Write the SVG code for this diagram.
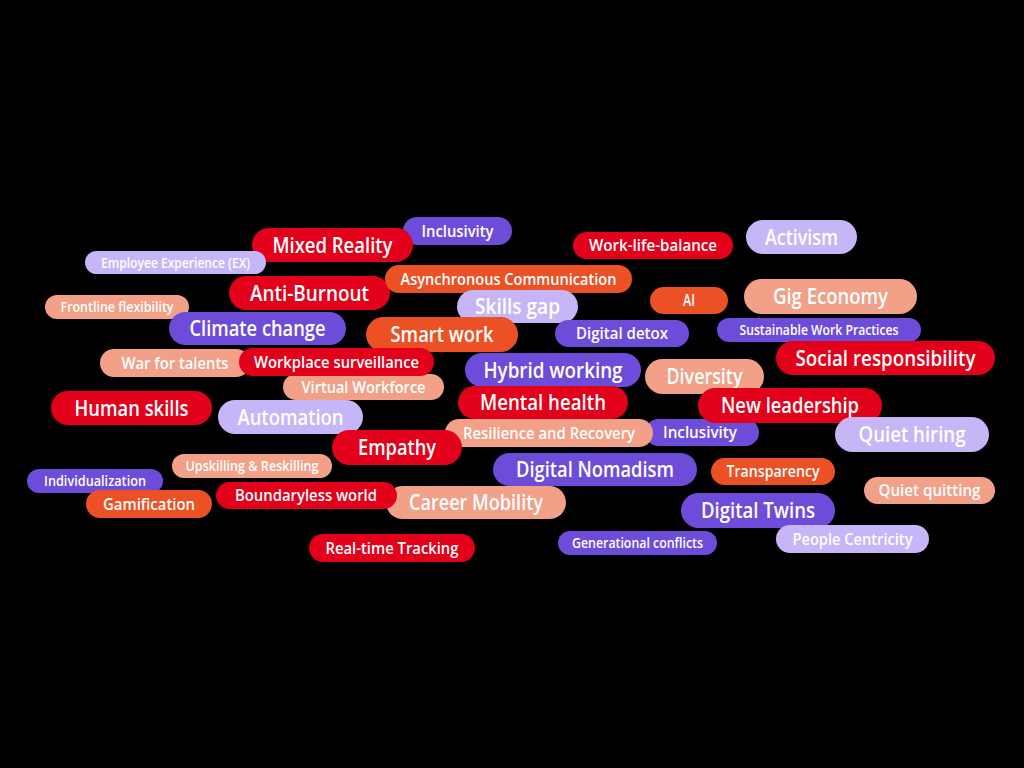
<svg xmlns="http://www.w3.org/2000/svg" width="1024" height="768" viewBox="0 0 1024 768">
<style>
.bg{fill:#000}
.red{fill:#E2001A}
.org{fill:#EB5124}
.sal{fill:#F2A088}
.pur{fill:#6E4CDA}
.lav{fill:#C6B6F8}
text{fill:#fff;font-family:"Open Sans","Noto Sans","Liberation Sans",sans-serif;font-weight:600;text-anchor:middle}
.L{font-size:21px}
.M{font-size:16.5px}
.S{font-size:14px}
</style>
<rect class="bg" x="0" y="0" width="1024" height="768"/>
<g id="inclusivity-1"><rect class="pur" x="403" y="217" width="109" height="28" rx="14"/><text class="M" x="457.5" y="236.9" textLength="72" lengthAdjust="spacingAndGlyphs">Inclusivity</text></g>
<g id="mixed-reality"><rect class="red" x="252" y="228" width="161" height="34" rx="17"/><text class="L" x="332.5" y="252.5" textLength="120" lengthAdjust="spacingAndGlyphs">Mixed Reality</text></g>
<g id="employee-experience"><rect class="lav" x="85" y="251" width="181" height="23" rx="11.5"/><text class="S" x="175.5" y="267.5" textLength="149" lengthAdjust="spacingAndGlyphs">Employee Experience (EX)</text></g>
<g id="work-life-balance"><rect class="red" x="573" y="232" width="160" height="27" rx="13.5"/><text class="M" x="653" y="251.4" textLength="128" lengthAdjust="spacingAndGlyphs">Work-life-balance</text></g>
<g id="activism"><rect class="lav" x="746" y="220" width="111" height="34" rx="17"/><text class="L" x="801.5" y="244.5" textLength="73" lengthAdjust="spacingAndGlyphs">Activism</text></g>
<g id="anti-burnout"><rect class="red" x="229" y="276" width="161" height="34" rx="17"/><text class="L" x="309.5" y="300.5" textLength="119" lengthAdjust="spacingAndGlyphs">Anti-Burnout</text></g>
<g id="asynchronous-communication"><rect class="org" x="385" y="265" width="247" height="28" rx="14"/><text class="M" x="508.5" y="284.9" textLength="216" lengthAdjust="spacingAndGlyphs">Asynchronous Communication</text></g>
<g id="skills-gap"><rect class="lav" x="457" y="290" width="121" height="33" rx="16.5"/><text class="L" x="517.5" y="314" textLength="85" lengthAdjust="spacingAndGlyphs">Skills gap</text></g>
<g id="ai"><rect class="org" x="650" y="287" width="78" height="27" rx="13.5"/><text class="M" x="689" y="306.4" textLength="12" lengthAdjust="spacingAndGlyphs">AI</text></g>
<g id="gig-economy"><rect class="sal" x="744" y="279" width="173" height="35" rx="17.5"/><text class="L" x="830.5" y="304" textLength="115" lengthAdjust="spacingAndGlyphs">Gig Economy</text></g>
<g id="frontline-flexibility"><rect class="sal" x="45" y="295" width="144" height="24" rx="12"/><text class="S" x="117" y="312" textLength="113" lengthAdjust="spacingAndGlyphs">Frontline flexibility</text></g>
<g id="climate-change"><rect class="pur" x="169" y="312" width="177" height="33" rx="16.5"/><text class="L" x="257.5" y="336" textLength="136" lengthAdjust="spacingAndGlyphs">Climate change</text></g>
<g id="smart-work"><rect class="org" x="366" y="317" width="152" height="35" rx="17.5"/><text class="L" x="442" y="342" textLength="103" lengthAdjust="spacingAndGlyphs">Smart work</text></g>
<g id="digital-detox"><rect class="pur" x="555" y="320" width="134" height="27" rx="13.5"/><text class="M" x="622" y="339.4" textLength="92" lengthAdjust="spacingAndGlyphs">Digital detox</text></g>
<g id="sustainable-work-practices"><rect class="pur" x="717" y="318" width="204" height="24" rx="12"/><text class="S" x="819" y="335" textLength="159" lengthAdjust="spacingAndGlyphs">Sustainable Work Practices</text></g>
<g id="social-responsibility"><rect class="red" x="776" y="341" width="219" height="34" rx="17"/><text class="L" x="885.5" y="365.5" textLength="180" lengthAdjust="spacingAndGlyphs">Social responsibility</text></g>
<g id="war-for-talents"><rect class="sal" x="100" y="349" width="150" height="28" rx="14"/><text class="M" x="175" y="368.9" textLength="107" lengthAdjust="spacingAndGlyphs">War for talents</text></g>
<g id="virtual-workforce"><rect class="sal" x="283" y="374" width="161" height="26" rx="13"/><text class="M" x="363.5" y="392.9" textLength="124" lengthAdjust="spacingAndGlyphs">Virtual Workforce</text></g>
<g id="workplace-surveillance"><rect class="red" x="239" y="348" width="195" height="28" rx="14"/><text class="M" x="336.5" y="367.9" textLength="165" lengthAdjust="spacingAndGlyphs">Workplace surveillance</text></g>
<g id="hybrid-working"><rect class="pur" x="465" y="353" width="176" height="34" rx="17"/><text class="L" x="553" y="377.5" textLength="139" lengthAdjust="spacingAndGlyphs">Hybrid working</text></g>
<g id="diversity"><rect class="sal" x="645" y="359" width="119" height="35" rx="17.5"/><text class="L" x="704.5" y="384" textLength="76" lengthAdjust="spacingAndGlyphs">Diversity</text></g>
<g id="human-skills"><rect class="red" x="51" y="391" width="161" height="34" rx="17"/><text class="L" x="131.5" y="415.5" textLength="114" lengthAdjust="spacingAndGlyphs">Human skills</text></g>
<g id="automation"><rect class="lav" x="218" y="400" width="145" height="34" rx="17"/><text class="L" x="290.5" y="424.5" textLength="106" lengthAdjust="spacingAndGlyphs">Automation</text></g>
<g id="mental-health"><rect class="red" x="458" y="386" width="170" height="33" rx="16.5"/><text class="L" x="543" y="410" textLength="126" lengthAdjust="spacingAndGlyphs">Mental health</text></g>
<g id="inclusivity-2"><rect class="pur" x="645" y="419" width="114" height="27" rx="13.5"/><text class="M" x="700" y="438.4" textLength="74" lengthAdjust="spacingAndGlyphs">Inclusivity</text></g>
<g id="new-leadership"><rect class="red" x="698" y="388" width="184" height="35" rx="17.5"/><text class="L" x="790" y="413" textLength="138" lengthAdjust="spacingAndGlyphs">New leadership</text></g>
<g id="quiet-hiring"><rect class="lav" x="835" y="417" width="154" height="35" rx="17.5"/><text class="L" x="912" y="442" textLength="107" lengthAdjust="spacingAndGlyphs">Quiet hiring</text></g>
<g id="resilience-and-recovery"><rect class="sal" x="445" y="419" width="208" height="28" rx="14"/><text class="M" x="549" y="438.9" textLength="172" lengthAdjust="spacingAndGlyphs">Resilience and Recovery</text></g>
<g id="empathy"><rect class="red" x="332" y="430" width="130" height="35" rx="17.5"/><text class="L" x="397" y="455" textLength="78" lengthAdjust="spacingAndGlyphs">Empathy</text></g>
<g id="upskilling-reskilling"><rect class="sal" x="172" y="454" width="160" height="24" rx="12"/><text class="S" x="252" y="471" textLength="133" lengthAdjust="spacingAndGlyphs">Upskilling &amp; Reskilling</text></g>
<g id="individualization"><rect class="pur" x="27" y="469" width="136" height="24" rx="12"/><text class="S" x="95" y="486" textLength="102" lengthAdjust="spacingAndGlyphs">Individualization</text></g>
<g id="gamification"><rect class="org" x="86" y="490" width="126" height="28" rx="14"/><text class="M" x="149" y="509.9" textLength="92" lengthAdjust="spacingAndGlyphs">Gamification</text></g>
<g id="digital-nomadism"><rect class="pur" x="493" y="453" width="204" height="33" rx="16.5"/><text class="L" x="595" y="477" textLength="158" lengthAdjust="spacingAndGlyphs">Digital Nomadism</text></g>
<g id="transparency"><rect class="org" x="711" y="458" width="124" height="27" rx="13.5"/><text class="M" x="773" y="477.4" textLength="93" lengthAdjust="spacingAndGlyphs">Transparency</text></g>
<g id="quiet-quitting"><rect class="sal" x="864" y="477" width="131" height="27" rx="13.5"/><text class="M" x="929.5" y="496.4" textLength="102" lengthAdjust="spacingAndGlyphs">Quiet quitting</text></g>
<g id="career-mobility"><rect class="sal" x="386" y="486" width="180" height="33" rx="16.5"/><text class="L" x="476" y="510" textLength="134" lengthAdjust="spacingAndGlyphs">Career Mobility</text></g>
<g id="boundaryless-world"><rect class="red" x="216" y="482" width="181" height="27" rx="13.5"/><text class="M" x="306" y="501.4" textLength="142" lengthAdjust="spacingAndGlyphs">Boundaryless world</text></g>
<g id="digital-twins"><rect class="pur" x="681" y="493" width="154" height="35" rx="17.5"/><text class="L" x="758" y="518" textLength="114" lengthAdjust="spacingAndGlyphs">Digital Twins</text></g>
<g id="real-time-tracking"><rect class="red" x="309" y="534" width="166" height="28" rx="14"/><text class="M" x="392" y="553.9" textLength="133" lengthAdjust="spacingAndGlyphs">Real-time Tracking</text></g>
<g id="generational-conflicts"><rect class="pur" x="558" y="531" width="159" height="24" rx="12"/><text class="S" x="637.5" y="548" textLength="131" lengthAdjust="spacingAndGlyphs">Generational conflicts</text></g>
<g id="people-centricity"><rect class="lav" x="776" y="525" width="153" height="28" rx="14"/><text class="M" x="852.5" y="544.9" textLength="120" lengthAdjust="spacingAndGlyphs">People Centricity</text></g>
<g id="connectors"></g>
</svg>
